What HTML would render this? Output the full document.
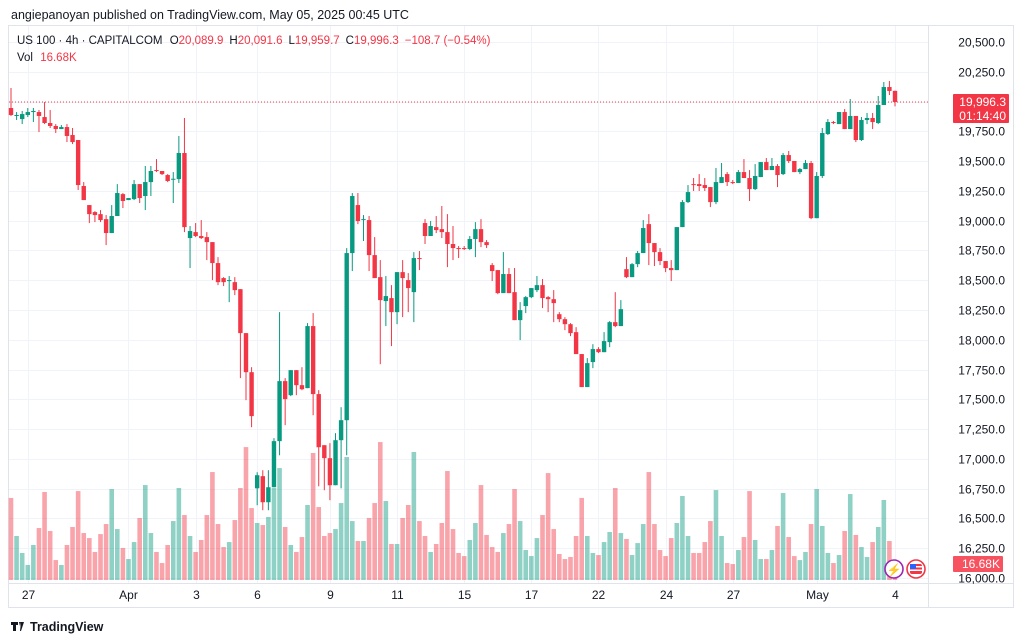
<!DOCTYPE html>
<html><head><meta charset="utf-8">
<style>
body{margin:0;background:#fff;font-family:"Liberation Sans",sans-serif;}
#wrap{position:relative;width:1024px;height:641px;overflow:hidden;background:#fff;}
svg{position:absolute;left:0;top:0;}
</style></head>
<body>
<div id="wrap">
<svg id="chart" width="1024" height="641" viewBox="0 0 1024 641"></svg>
</div>
<script>
// ---- data (OHLC in index points, volume in K) ----
const opens=[19946,19879,19853,19887,19912,19912,19870,19820,19795,19769,19786,19719,19677,19291,19131,19072,19055,19013,18896,19039,19223,19173,19181,19307,19207,19324,19425,19417,19383,19349,19349,19568,18854,18904,18871,18862,18820,18644,18518,18493,18484,18425,18056,17728,16753,16855,16636,16762,17149,17653,17535,17745,17619,17594,18115,17544,17115,17006,16779,17157,17325,18728,19131,19005,19005,18711,18526,18325,18350,18232,18568,18501,18400,18686,18980,18871,18946,18929,18904,18804,18770,18770,18762,18846,18929,18820,18627,18585,18392,18552,18400,18165,18283,18358,18417,18459,18358,18341,18215,18173,18131,18064,17880,17603,17813,17922,17896,17980,18148,18115,18593,18526,18635,18728,18971,18812,18736,18661,18602,18585,18946,19156,19307,19307,19299,19282,19156,19316,19391,19324,19316,19408,19358,19265,19366,19492,19425,19459,19391,19551,19501,19408,19433,19484,19021,19375,19727,19828,19811,19912,19769,19879,19677,19845,19862,19820,19971,20122,20089.9];
const highs=[20114,19912,19921,19946,19946,19929,19996,19929,19811,19803,19811,19778,19677,19324,19131,19080,19089,19047,19131,19307,19232,19190,19341,19307,19459,19459,19517,19417,19391,19408,19711,19862,18955,18980,19005,18904,18820,18694,18526,18535,18526,18425,18056,17770,16888,16905,16905,17174,18232,17678,17745,17745,17770,18140,18224,17577,17115,17132,17216,17434,18770,19232,19232,19047,19039,18862,18669,18535,18459,18568,18669,18560,18736,18745,19013,18997,19039,19123,19055,18955,18787,18787,18871,18988,19013,18837,18644,18585,18736,18602,18602,18316,18367,18434,18535,18510,18367,18417,18232,18190,18140,18106,17880,17846,17963,17938,18064,18157,18400,18333,18694,18644,18745,19005,19055,18812,18770,18661,18669,18946,19173,19299,19358,19391,19358,19282,19442,19484,19408,19341,19425,19517,19425,19475,19492,19526,19526,19475,19568,19585,19501,19442,19509,19501,19408,19778,19853,19837,19912,19937,20021,19879,19870,19904,19904,20047,20164,20173,20091.6];
const lows=[19879,19845,19811,19870,19828,19744,19811,19778,19736,19769,19660,19643,19257,19173,18980,18988,18988,18795,18896,19039,19106,19173,19173,19148,19089,19207,19408,19383,19324,19148,19316,18904,18602,18862,18846,18669,18501,18459,18451,18316,18375,17678,17493,17266,16611,16569,16569,16762,17031,17283,17527,17535,17577,17594,17367,16770,16737,16653,16779,16753,17031,18577,18971,18829,18577,18518,17795,18115,17947,18131,18190,18232,18148,18585,18804,18871,18896,18854,18610,18669,18686,18753,18753,18694,18778,18770,18493,18383,18392,18392,18165,17997,18224,18350,18400,18266,18232,18148,18148,18081,18031,17880,17603,17603,17762,17888,17896,17938,18106,18115,18518,18526,18610,18728,18627,18619,18627,18568,18493,18585,18946,19148,19249,19249,19249,19114,19139,19316,19291,19307,19316,19358,19165,19257,19366,19425,19425,19282,19383,19484,19408,19391,19433,19013,19021,19358,19719,19811,19811,19769,19769,19660,19669,19811,19769,19811,19971,20055,19959.7];
const closes=[19887,19887,19895,19912,19921,19879,19820,19795,19769,19786,19711,19660,19299,19173,19055,19047,19005,18896,19039,19232,19165,19190,19307,19190,19324,19417,19417,19391,19333,19352,19568,18946,18913,18871,18854,18820,18644,18484,18484,18501,18417,18056,17728,17359,16863,16636,16762,17149,17653,17502,17745,17619,17585,18115,17544,17098,17006,16779,17157,17325,18728,19207,18997,19013,18711,18518,18333,18367,18232,18568,18518,18434,18686,18678,18871,18955,18921,18904,18804,18770,18762,18762,18846,18929,18820,18795,18577,18392,18552,18392,18165,18249,18358,18434,18459,18350,18341,18308,18173,18131,18056,17880,17603,17804,17922,17896,17989,18148,18115,18257,18526,18635,18728,18938,18812,18736,18661,18602,18585,18946,19156,19240,19299,19291,19274,19156,19324,19366,19324,19316,19408,19358,19265,19375,19492,19425,19459,19383,19551,19501,19408,19433,19484,19021,19375,19736,19828,19820,19912,19769,19879,19677,19845,19862,19828,19971,20122,20089,19996.3];
const volumes=[72,38.6,23.7,13.2,30.7,45.6,77.2,43,17.5,13.2,30.7,46.5,78,41.2,36.8,24.6,40.3,49.1,79.8,44.7,28.1,18.4,33.3,54.4,83.3,41.2,24.6,14.9,30.7,51.7,80.7,57,38.6,24.6,35.1,57,94.7,49.1,28.9,33.3,52.6,80.7,116.6,63.1,50,48.2,55.3,80.7,98.2,46.5,30.7,24.6,37.7,65.8,111.4,64,38.6,41.2,44.7,67.5,107.9,51.7,34.2,34.2,54.4,67.5,121,69.3,31.6,31.6,54.4,65.8,112.3,51.7,38.6,24.6,31.6,50,95.6,44.7,23.7,21,35.1,50,83.3,39.5,28.9,24.6,41.2,49.1,79.8,51.7,26.3,21,36.8,57,93.8,44.7,22.8,18.4,20.2,38.6,72,38.6,23.7,21.9,33.3,42.1,80.7,41.2,36,21.9,32.4,49.1,94.7,49.1,26.3,21,36.8,50,73.7,38.6,23.7,23.7,33.3,51.7,78.9,38.6,14.9,14,26.3,37.7,78,35.1,18.4,18.4,26.3,47.4,76.3,37.7,21,17.5,24.6,49.1,79.8,47.4,23.7,14.9,21.9,43,75.4,39.5,28.9,20.2,33.3,46.5,70.2,34.2,16.68];
const priceTicks=[20500,20250,20000,19750,19500,19250,19000,18750,18500,18250,18000,17750,17500,17250,17000,16750,16500,16250,16000];
const dateLabels=["27","Apr","3","6","9","11","15","17","22","24","27","May","4"];
const dateIndex=[3,21,33,44,57,69,81,93,105,117,129,144,158];

// ---- axes ----
const plotL=8, plotR=928, firstX=11, stepX=5.595;
const yP=p=>578-(p-16000)*0.11911;
const xI=i=>firstX+i*stepX;
const volBase=580, volScale=1.14;
const yV=v=>volBase-v*volScale;
const UP='#089981', DN='#f23645', UPV='rgba(8,153,129,0.45)', DNV='rgba(242,54,69,0.45)';

const svg=document.getElementById('chart');
const NS='http://www.w3.org/2000/svg';
function mk(tag,attrs,parent){const e=document.createElementNS(NS,tag);for(const k in attrs)e.setAttribute(k,attrs[k]);(parent||svg).appendChild(e);return e;}

// frame
const frame=mk('rect',{x:8.5,y:25.5,width:1005,height:582,fill:'none',stroke:'#e0e3eb'});


const axL=mk('line',{x1:928.5,y1:26,x2:928.5,y2:607,stroke:'#e0e3eb'});


const axB=mk('line',{x1:9,y1:583.5,x2:1013,y2:583.5,stroke:'#e0e3eb'});



// grid + price labels
const gGrid=mk('g',{});


priceTicks.forEach(p=>{
  const y=Math.round(yP(p))+0.5;
  const l=mk('line',{x1:plotL+1,y1:y,x2:plotR,y2:y,stroke:'#f0f3fa'},gGrid);
  
  
  const t=mk('text',{x:1005,y:y+4,'text-anchor':'end','font-size':'12',fill:'#131722'});
  t.textContent=p.toLocaleString('en-US',{minimumFractionDigits:1});
  
  
});
dateLabels.forEach((d,k)=>{
  const x=Math.round(xI(dateIndex[k]))+0.5;
  const l=mk('line',{x1:x,y1:26,x2:x,y2:583,stroke:'#f0f3fa'},gGrid);
  
  
  const t=mk('text',{x:x,y:599,'text-anchor':'middle','font-size':'12',fill:'#131722'});
  t.textContent=d;
  
  
});

// volume bars
const gVol=mk('g',{});


const n=Math.min(opens.length,closes.length,highs.length,lows.length);
for(let i=0;i<Math.min(n,volumes.length);i++){
  const up=closes[i]>=opens[i];
  const y=yV(volumes[i]);
  const r=mk('rect',{x:xI(i)-2.3,y:y,width:4.6,height:volBase-y,fill:up?UPV:DNV},gVol);
  
  
}

// last price line
const lastY=yP(closes[n-1]);
const pl=mk('line',{x1:plotL+1,y1:lastY,x2:plotR,y2:lastY,stroke:DN,'stroke-dasharray':'1 2','stroke-width':1});



// candles
const gC=mk('g',{});


for(let i=0;i<n;i++){
  const up=closes[i]>=opens[i];
  const col=up?UP:DN;
  const x=xI(i);
  const g=mk('g',{},gC);
  
  
  mk('line',{x1:x,y1:yP(highs[i]),x2:x,y2:yP(lows[i]),stroke:col,'stroke-width':1},g);
  const top=yP(Math.max(opens[i],closes[i])), bot=yP(Math.min(opens[i],closes[i]));
  mk('rect',{x:x-2.2,y:top,width:4.4,height:Math.max(1,bot-top),fill:col},g);
}

// last price tag
const tag=mk('g',{});


mk('rect',{x:953,y:lastY-8,width:56,height:29,fill:DN,rx:1},tag);
const t1=mk('text',{x:1006,y:lastY+4,'text-anchor':'end','font-size':'12',fill:'#fff'},tag);
t1.textContent=closes[n-1].toLocaleString('en-US',{minimumFractionDigits:1});
const t2=mk('text',{x:1006,y:lastY+18,'text-anchor':'end','font-size':'12',fill:'#fff'},tag);
t2.textContent='01:14:40';

// volume tag
const vtag=mk('g',{});


mk('rect',{x:953,y:556,width:50,height:16,fill:'#f7525f',rx:1},vtag);
const vt=mk('text',{x:1000,y:568,'text-anchor':'end','font-size':'12',fill:'#fff'},vtag);
vt.textContent=volumes[volumes.length-1].toFixed(2)+'K';

// icons
const ic1=mk('g',{});


mk('circle',{cx:894,cy:569,r:9,fill:'#fff',stroke:'#9c27b0','stroke-width':1.6},ic1);
const lt=mk('text',{x:894,y:574,'text-anchor':'middle','font-size':'12',fill:'#9c27b0'},ic1);
lt.textContent='⚡';
const ic2=mk('g',{});


mk('circle',{cx:916,cy:569,r:9,fill:'#fff',stroke:'#f23645','stroke-width':1.6},ic2);
mk('rect',{x:910,y:564,width:12,height:10,fill:'#f23645',rx:2},ic2);
mk('rect',{x:910,y:566,width:12,height:1.5,fill:'#fff'},ic2);
mk('rect',{x:910,y:569.5,width:12,height:1.5,fill:'#fff'},ic2);
mk('rect',{x:910,y:564,width:6,height:5,fill:'#2962ff'},ic2);
</script>
<svg width="1024" height="641" style="pointer-events:none">
<text x="11" y="19" font-size="12.5" fill="#131722" font-family="Liberation Sans, sans-serif">angiepanoyan published on TradingView.com, May 05, 2025 00:45 UTC</text>
<text x="17" y="44" font-size="11.5" fill="#131722" font-family="Liberation Sans, sans-serif">US 100 · 4h · CAPITALCOM <tspan dx="4">O</tspan><tspan fill="#f23645">20,089.9</tspan><tspan dx="6">H</tspan><tspan fill="#f23645">20,091.6</tspan><tspan dx="6">L</tspan><tspan fill="#f23645">19,959.7</tspan><tspan dx="6">C</tspan><tspan fill="#f23645">19,996.3</tspan><tspan dx="6" fill="#f23645">−108.7 (−0.54%)</tspan></text>
<text x="17" y="61" font-size="11.5" fill="#131722" font-family="Liberation Sans, sans-serif">Vol <tspan dx="4" fill="#f23645">16.68K</tspan></text>
<g>
<path d="M11 622h7v3h-2v6h-3v-6h-2z M19 622h2l-1 4z M21 622h3l-3 9h-1z" fill="#131722"/>
<text x="30" y="631" font-size="12.5" font-weight="bold" fill="#131722" font-family="Liberation Sans, sans-serif">TradingView</text>
</g>
</svg>
</body></html>
